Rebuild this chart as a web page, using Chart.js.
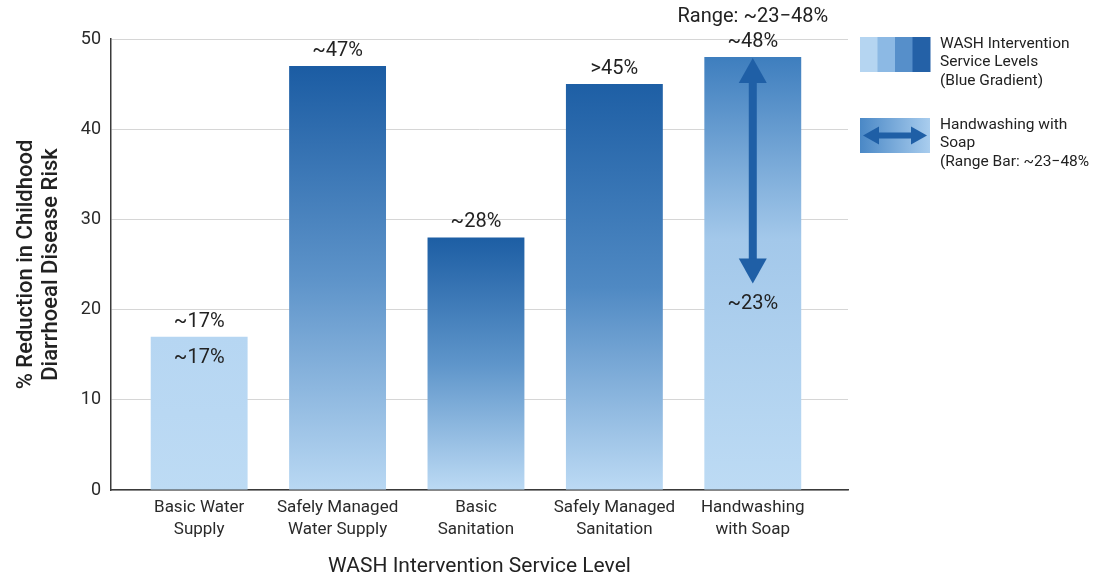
<!DOCTYPE html>
<html>
<head>
<meta charset="utf-8">
<script src="https://cdn.jsdelivr.net/npm/chart.js@4.4.1/dist/chart.umd.min.js"></script>
<style>
    html, body { margin: 0; padding: 0; background: #fff; }
    #wrap { width: 1093px; height: 580px; position: relative; }
</style>
</head>
<body>
<div id="wrap"><canvas id="washChart"></canvas></div>
<script>
// chart data
const categories = [
    ["Basic Water", "Supply"],
    ["Safely Managed", "Water Supply"],
    ["Basic", "Sanitation"],
    ["Safely Managed", "Sanitation"],
    ["Handwashing", "with Soap"]
];
const reductionValues = [17, 47, 28, 45, 48];
const topLabels = ["~17%", "~47%", "~28%", ">45%", "~48%"];
const innerLabels = ["~17%", null, null, null, "~23%"];
const innerLabelValues = [17, null, null, null, 23];
const handwashRange = [23, 48];   // low, high
const rangeBarIndex = 4;
const yTickMax = 50;
const yTickStep = 10;

// bar gradient shades (top, middle, bottom) and where the middle sits
const barShades = [
    ["#b6d6f2", "#b9d8f3", "#bddbf4"],
    ["#1b5ca3", "#5d93c9", "#b9d8f3"],
    ["#1d5ea4", "#5e95ca", "#bcdaf4"],
    ["#1e5fa5", "#4f89c3", "#bcdaf4"],
    ["#3e7ebe", "#a3c8ea", "#bddbf4"]
];
const barMidStops = [0.5, 0.5, 0.5, 0.5, 0.42];

const legendBlocks = ["#b5d5f1", "#8cb9e4", "#568fca", "#2461a7"];
const legendItems = [
    ["WASH Intervention", "Service Levels", "(Blue Gradient)"],
    ["Handwashing with", "Soap", "(Range Bar: ~23\u221248%"]
];

const FONT = "Roboto, 'Liberation Sans', sans-serif";
const ARROW_BLUE = "#1f5fa6";

function barGradient(ctx) {
    const chart = ctx.chart;
    if (!chart.chartArea) return barShades[0][1];
    const i = ctx.dataIndex;
    const y = chart.scales.y;
    const top = y.getPixelForValue(reductionValues[i]);
    const base = y.getPixelForValue(0);
    const g = chart.ctx.createLinearGradient(0, top, 0, base);
    g.addColorStop(0, barShades[i][0]);
    g.addColorStop(barMidStops[i], barShades[i][1]);
    g.addColorStop(1, barShades[i][2]);
    return g;
}

function drawVArrow(c, x, yTop, yBot) {
    const headH = 25, headW = 28, shaft = 8;
    c.save();
    c.fillStyle = ARROW_BLUE;
    c.fillRect(x - shaft / 2, yTop + headH - 2, shaft, (yBot - yTop) - 2 * headH + 4);
    c.beginPath();
    c.moveTo(x, yTop);
    c.lineTo(x + headW / 2, yTop + headH);
    c.lineTo(x - headW / 2, yTop + headH);
    c.closePath();
    c.fill();
    c.beginPath();
    c.moveTo(x, yBot);
    c.lineTo(x + headW / 2, yBot - headH);
    c.lineTo(x - headW / 2, yBot - headH);
    c.closePath();
    c.fill();
    c.restore();
}

const annotationPlugin = {
    id: "washAnnotations",
    afterDatasetsDraw(chart) {
        const c = chart.ctx;
        const y = chart.scales.y;
        const bars = chart.getDatasetMeta(0).data;

        c.save();
        c.fillStyle = "#222";
        c.font = "20px " + FONT;
        c.textAlign = "center";
        c.textBaseline = "middle";

        // value labels above bars
        bars.forEach((bar, i) => {
            c.fillText(topLabels[i], bar.x, bar.y - 15);
        });

        // range arrow on handwashing bar
        const hb = bars[rangeBarIndex];
        const yLow = y.getPixelForValue(handwashRange[0]);
        const yHigh = y.getPixelForValue(handwashRange[1]);
        drawVArrow(c, hb.x, yHigh + 1, yLow + 1);

        // labels inside / below
        c.fillStyle = "#222";
        innerLabels.forEach((lab, i) => {
            if (!lab) return;
            c.fillText(lab, bars[i].x, y.getPixelForValue(innerLabelValues[i]) + 21);
        });

        // range caption
        c.fillText("Range: ~" + handwashRange[0] + "\u2212" + handwashRange[1] + "%", hb.x, 17);

        // legend on the right
        const lx = 860, lw = 70, lh = 35;
        const ly1 = 37, ly2 = 118;
        const bw = lw / legendBlocks.length;
        legendBlocks.forEach((col, k) => {
            c.fillStyle = col;
            c.fillRect(lx + k * bw, ly1, bw + 0.5, lh);
        });
        const lg = c.createLinearGradient(lx, 0, lx + lw, 0);
        lg.addColorStop(0, "#4a88c6");
        lg.addColorStop(1, "#a9cdee");
        c.fillStyle = lg;
        c.fillRect(lx, ly2, lw, lh);
        // horizontal double arrow
        const ay = ly2 + lh / 2;
        c.fillStyle = ARROW_BLUE;
        c.fillRect(lx + 16, ay - 3, lw - 32, 6);
        c.beginPath();
        c.moveTo(lx + 3, ay);
        c.lineTo(lx + 19, ay - 9);
        c.lineTo(lx + 19, ay + 9);
        c.closePath();
        c.fill();
        c.beginPath();
        c.moveTo(lx + lw - 3, ay);
        c.lineTo(lx + lw - 19, ay - 9);
        c.lineTo(lx + lw - 19, ay + 9);
        c.closePath();
        c.fill();

        c.fillStyle = "#222";
        c.font = "15.5px " + FONT;
        c.textAlign = "left";
        legendItems[0].forEach((t, k) => c.fillText(t, 940, 44 + k * 18.5));
        legendItems[1].forEach((t, k) => c.fillText(t, 940, 125 + k * 18.5));
        c.restore();
    }
};

const ctx = document.getElementById("washChart").getContext("2d");
new Chart(ctx, {
    type: "bar",
    data: {
        labels: categories,
        datasets: [{
            data: reductionValues,
            backgroundColor: barGradient,
            borderWidth: 0,
            categoryPercentage: 1.0,
            barPercentage: 0.70
        }]
    },
    options: {
        responsive: true,
        maintainAspectRatio: false,
        animation: false,
        events: [],
        layout: { padding: { top: 39, right: 245, left: 0, bottom: 0 } },
        plugins: {
            legend: { display: false },
            tooltip: { enabled: false }
        },
        scales: {
            x: {
                // bars sit a bit in from the axis ends: widen the value span
                afterBuildTicks(scale) {
                    scale._startValue = -0.637;
                    scale._valueRange = 5.325;
                },
                afterFit(scale) { scale.height = 90; },
                grid: { display: false, drawTicks: false },
                border: { display: true, color: "#3a3a3a", width: 1.5 },
                ticks: {
                    color: "#2a2a2a",
                    font: { family: FONT, size: 17, lineHeight: 1.3 },
                    padding: 7,
                    maxRotation: 0,
                    autoSkip: false
                },
                title: {
                    display: true,
                    text: "WASH Intervention Service Level",
                    color: "#222",
                    font: { family: FONT, size: 21 },
                    padding: { top: 0, bottom: 1 }
                }
            },
            y: {
                min: 0,
                max: yTickMax,
                afterFit(scale) { scale.width = 111; },
                grid: { color: "#d6d6d6", lineWidth: 1, drawTicks: false },
                border: { display: true, color: "#3a3a3a", width: 1.5 },
                ticks: {
                    stepSize: yTickStep,
                    color: "#2a2a2a",
                    font: { family: FONT, size: 18 },
                    padding: 10
                },
                title: {
                    display: true,
                    text: ["% Reduction in Childhood", "Diarrhoeal Disease Risk"],
                    color: "#222",
                    font: { family: FONT, size: 22, weight: "500", lineHeight: 1.15 },
                    padding: { top: 14, bottom: 0 }
                }
            }
        }
    },
    plugins: [annotationPlugin]
});
</script>
</body>
</html>
